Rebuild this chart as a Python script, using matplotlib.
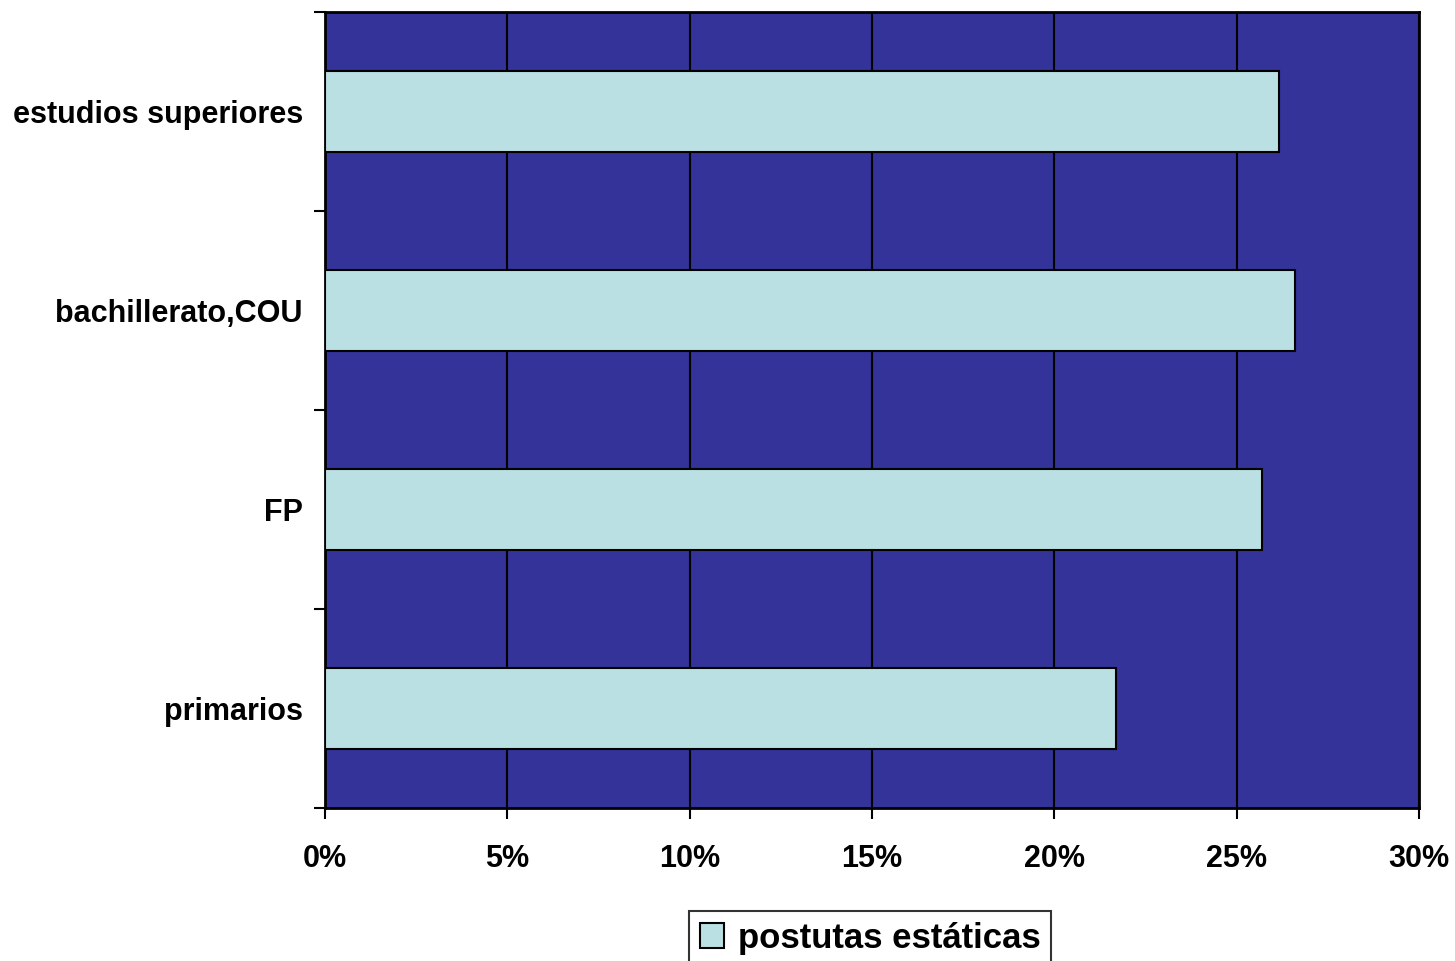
import numpy as np
import matplotlib.pyplot as plt
from matplotlib.ticker import PercentFormatter, NullFormatter

plt.rcParams['font.family'] = ['Liberation Sans', 'DejaVu Sans']
plt.rcParams['font.weight'] = 'bold'

categories = ['primarios', 'FP', 'bachillerato,COU', 'estudios superiores']
values = [21.7, 25.7, 26.6, 26.15]
series_name = 'postutas estáticas'

fig = plt.figure(figsize=(14.55, 9.61), dpi=100)
ax = fig.add_axes([325 / 1455, 1 - 808 / 961, 1094 / 1455, 796 / 961])
ax.set_facecolor('#333399')

y = np.arange(len(categories))
ax.barh(y, values, height=0.41, color='#BBE0E3', edgecolor='black',
        linewidth=1.5, label=series_name, zorder=3)

ax.set_xlim(0, 30)
ax.set_ylim(-0.5, len(categories) - 0.5)
ax.set_xticks(np.arange(0, 31, 5))
ax.xaxis.set_major_formatter(PercentFormatter(decimals=0))
ax.grid(axis='x', color='black', linewidth=1.5, zorder=1)

# category labels centred, ticks at the boundaries
ax.set_yticks(np.arange(-0.5, len(categories), 1.0))
ax.yaxis.set_major_formatter(NullFormatter())
ax.set_yticks(y, minor=True)
ax.set_yticklabels(categories, minor=True)
ax.tick_params(axis='y', which='minor', length=0, pad=16, labelsize=22)
ax.tick_params(axis='y', which='major', length=8, width=1.5)
ax.tick_params(axis='x', length=8, width=1.5, labelsize=22, pad=18)

for s in ax.spines.values():
    s.set_linewidth(2)
    s.set_color('black')

leg = fig.legend(loc='upper center', bbox_to_anchor=(870 / 1455, 1 - 894 / 961),
                 fontsize=25, frameon=True, fancybox=False, edgecolor='black',
                 handlelength=0.7, handleheight=0.7, handletextpad=0.4,
                 borderpad=0.3)
leg.get_frame().set_linewidth(1.5)

fig.savefig('out.png', dpi=100)
